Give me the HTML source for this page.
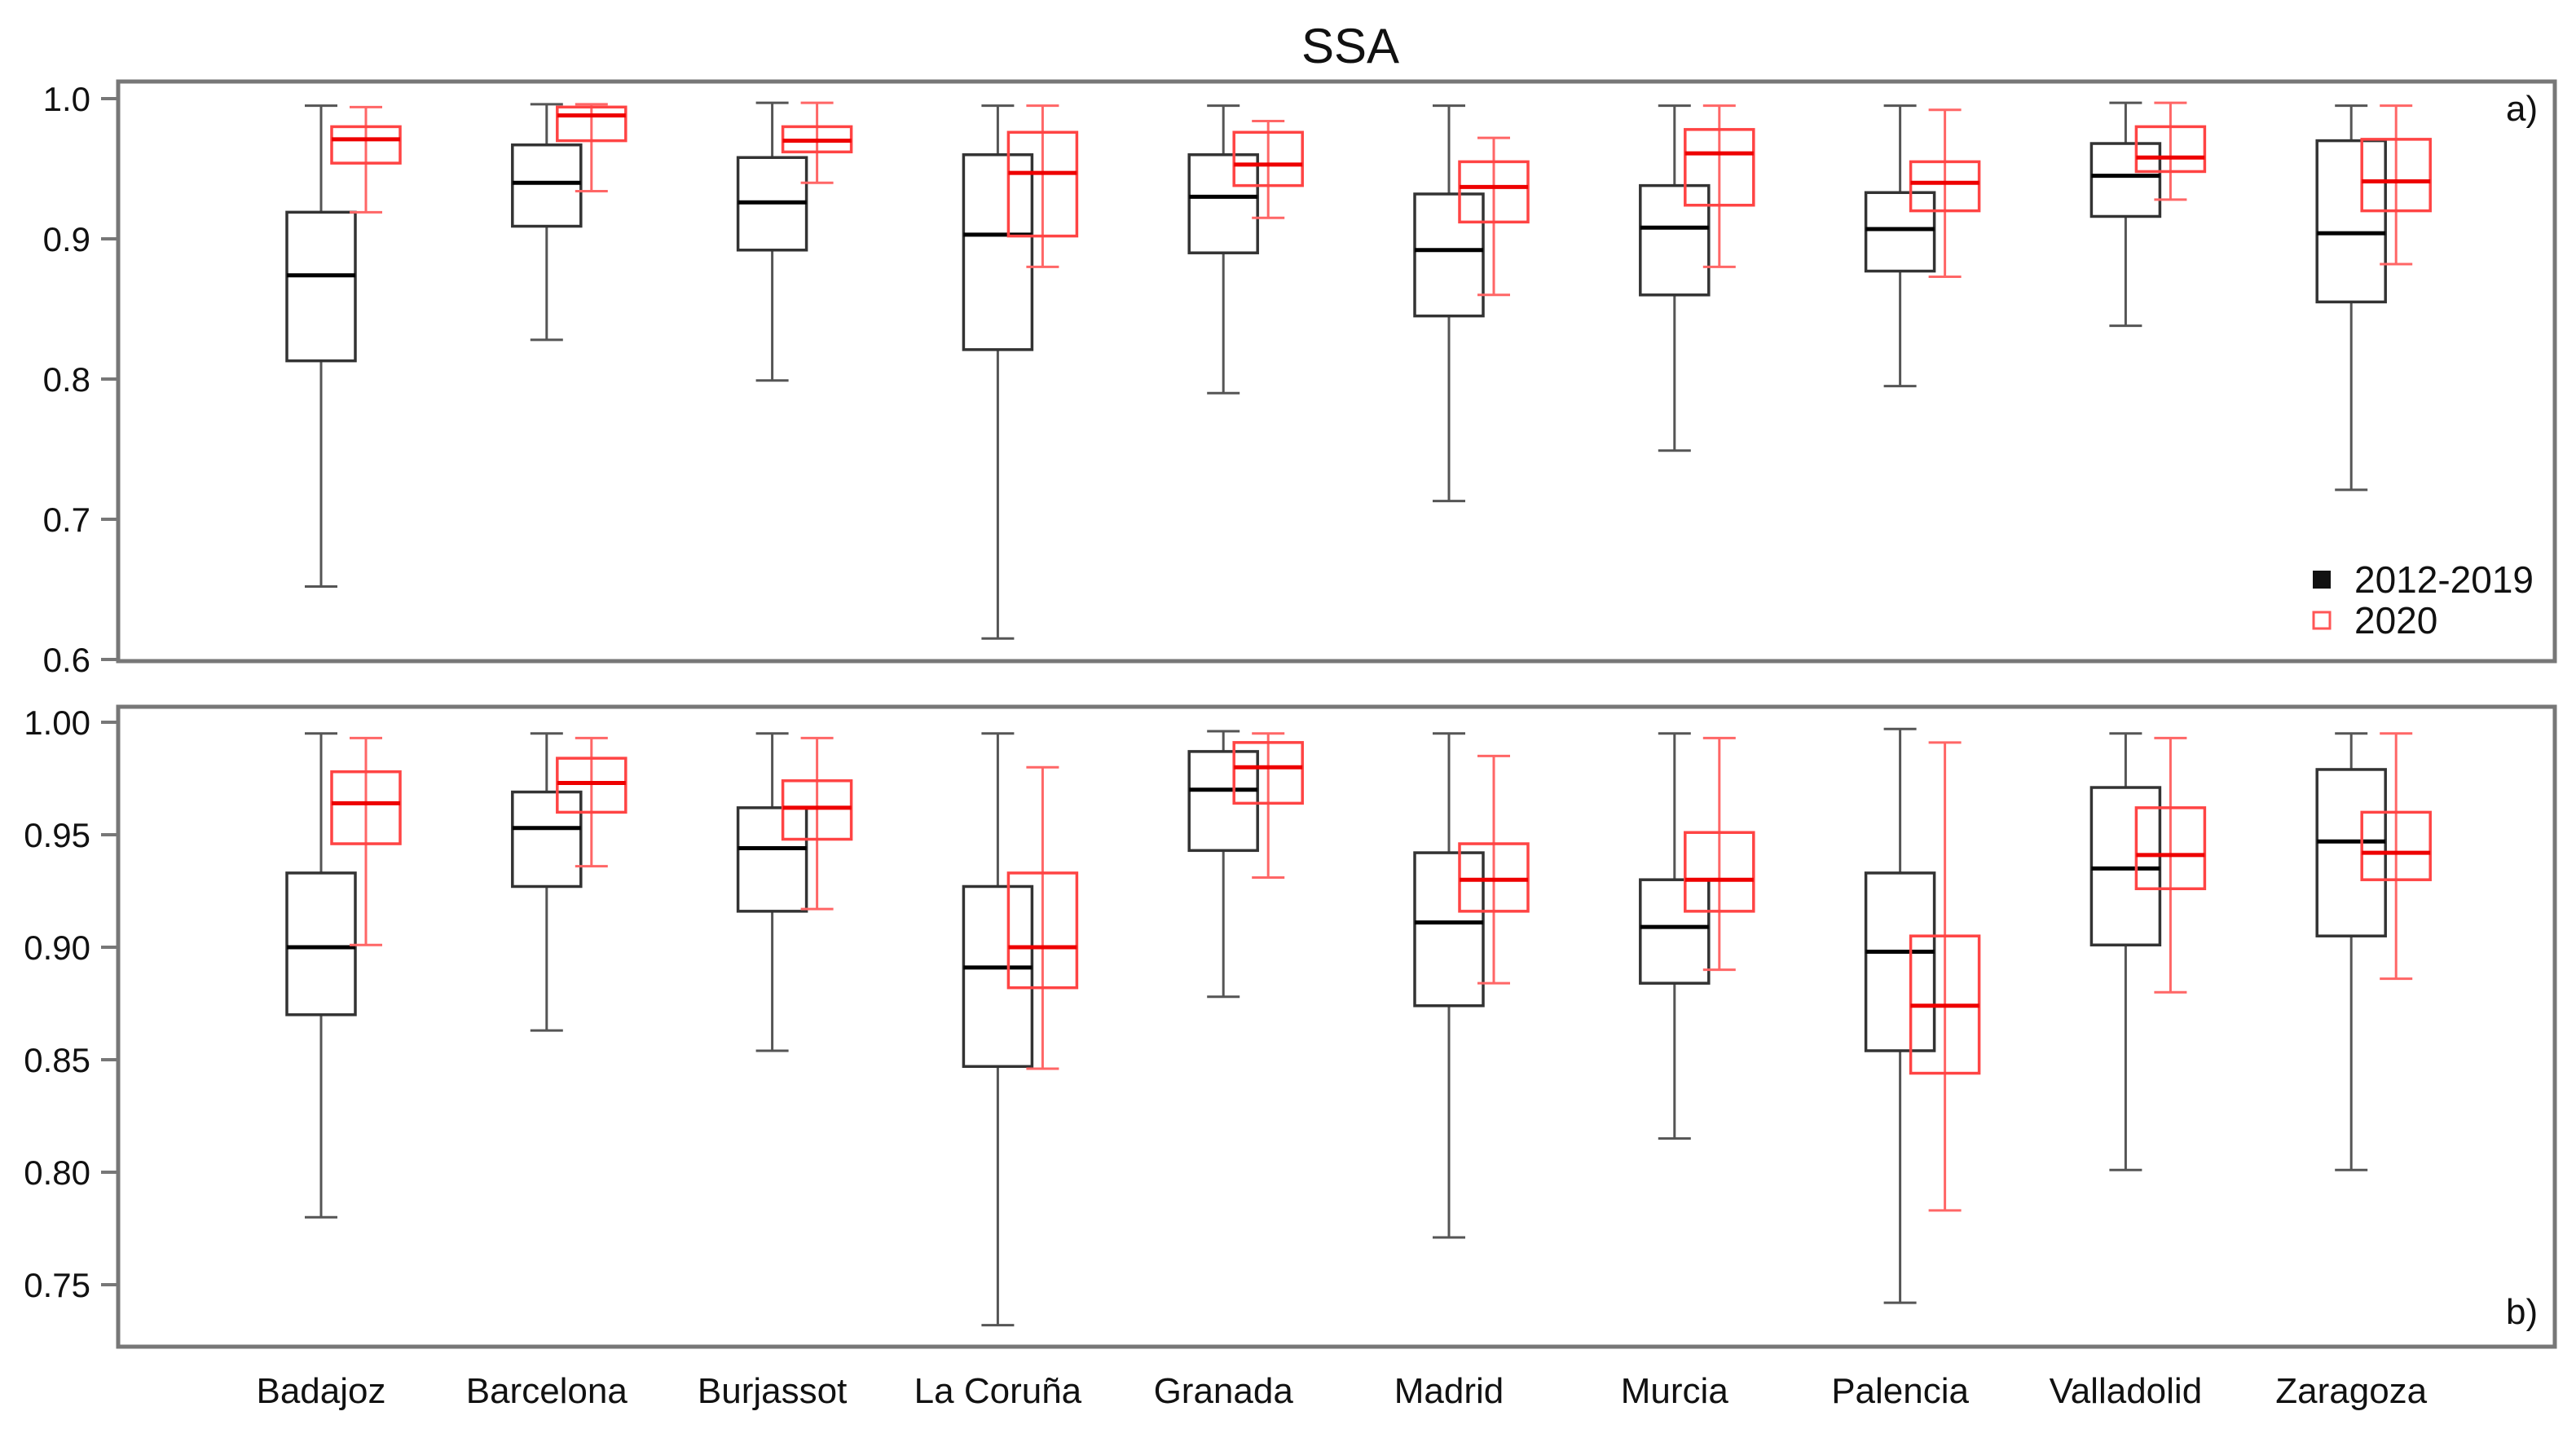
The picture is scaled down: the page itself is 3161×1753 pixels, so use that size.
<!DOCTYPE html>
<html><head><meta charset="utf-8"><style>
html,body{margin:0;padding:0;background:#fff;}
svg{display:block;font-family:"Liberation Sans",sans-serif;}
</style></head><body>
<svg id="chart" width="3161" height="1753" viewBox="0 0 3161 1753" xmlns="http://www.w3.org/2000/svg">
<text x="1657" y="77" font-size="60" text-anchor="middle" fill="#111">SSA</text>
<g id="legend">
<rect x="2838" y="700" width="22" height="22" fill="#111"/>
<text x="2889" y="727" font-size="46" fill="#111">2012-2019</text>
<rect x="2839" y="751" width="20" height="20" fill="none" stroke="#f55" stroke-width="3"/>
<text x="2889" y="777" font-size="46" fill="#111">2020</text>
</g>
</svg>
<script>
const categories = ["Badajoz","Barcelona","Burjassot","La Coruña","Granada","Madrid","Murcia","Palencia","Valladolid","Zaragoza"];
// [low, q1, median, q3, high]
const panelA_base = [
 [0.652,0.813,0.874,0.919,0.995],[0.828,0.909,0.940,0.967,0.996],[0.799,0.892,0.926,0.958,0.997],
 [0.615,0.821,0.903,0.960,0.995],[0.790,0.890,0.930,0.960,0.995],[0.713,0.845,0.892,0.932,0.995],
 [0.749,0.860,0.908,0.938,0.995],[0.795,0.877,0.907,0.933,0.995],[0.838,0.916,0.945,0.968,0.997],
 [0.721,0.855,0.904,0.970,0.995]];
const panelA_2020 = [
 [0.919,0.954,0.971,0.980,0.994],[0.934,0.970,0.988,0.994,0.996],[0.940,0.962,0.970,0.980,0.997],
 [0.880,0.902,0.947,0.976,0.995],[0.915,0.938,0.953,0.976,0.984],[0.860,0.912,0.937,0.955,0.972],
 [0.880,0.924,0.961,0.978,0.995],[0.873,0.920,0.940,0.955,0.992],[0.928,0.948,0.958,0.980,0.997],
 [0.882,0.920,0.941,0.971,0.995]];
const panelB_base = [
 [0.780,0.870,0.900,0.933,0.995],[0.863,0.927,0.953,0.969,0.995],[0.854,0.916,0.944,0.962,0.995],
 [0.732,0.847,0.891,0.927,0.995],[0.878,0.943,0.970,0.987,0.996],[0.771,0.874,0.911,0.942,0.995],
 [0.815,0.884,0.909,0.930,0.995],[0.742,0.854,0.898,0.933,0.997],[0.801,0.901,0.935,0.971,0.995],
 [0.801,0.905,0.947,0.979,0.995]];
const panelB_2020 = [
 [0.901,0.946,0.964,0.978,0.993],[0.936,0.960,0.973,0.984,0.993],[0.917,0.948,0.962,0.974,0.993],
 [0.846,0.882,0.900,0.933,0.980],[0.931,0.964,0.980,0.991,0.995],[0.884,0.916,0.930,0.946,0.985],
 [0.890,0.916,0.930,0.951,0.993],[0.783,0.844,0.874,0.905,0.991],[0.880,0.926,0.941,0.962,0.993],
 [0.886,0.930,0.942,0.960,0.995]];
const ticksA = [1.0,0.9,0.8,0.7,0.6];
const tickLabelsA = ["1.0","0.9","0.8","0.7","0.6"];
const ticksB = [1.00,0.95,0.90,0.85,0.80,0.75];
const tickLabelsB = ["1.00","0.95","0.90","0.85","0.80","0.75"];

const NS="http://www.w3.org/2000/svg";
const svg=document.getElementById('chart');
function mk(tag,attrs,parent){const e=document.createElementNS(NS,tag);for(const k in attrs)e.setAttribute(k,attrs[k]);(parent||svg).appendChild(e);return e;}
const xCenter = i => 394 + i*276.8;

function drawPanel(id, top, bottom, y1v, y1p, y2v, y2p, ticks, labels, base, cur, tag){
  const y = v => y1p + (v - y1v)*(y2p - y1p)/(y2v - y1v);
  const g=mk('g',{});
  
  
  const fr=mk('rect',{x:145,y:top,width:2990,height:bottom-top,fill:'none',stroke:'#777','stroke-width':5},g);
  
  
  ticks.forEach((t,k)=>{
    const tl=mk('line',{x1:124,x2:145,y1:y(t),y2:y(t),stroke:'#777','stroke-width':4},g);
    
    
    const tx=mk('text',{x:111,y:y(t)+15,'font-size':42,'text-anchor':'end',fill:'#111'},g);
    tx.textContent=labels[k];
    
    
  });
  function box(d, cx, isRed, name){
    const bg=mk('g',{},g);
    
    
    const wc=isRed?'#f66':'#555', bc=isRed?'#f44':'#333', mc=isRed?'#e00':'#000';
    mk('line',{x1:cx,x2:cx,y1:y(d[4]),y2:y(d[0]),stroke:wc,'stroke-width':3},bg);
    mk('line',{x1:cx-20,x2:cx+20,y1:y(d[4]),y2:y(d[4]),stroke:wc,'stroke-width':3},bg);
    mk('line',{x1:cx-20,x2:cx+20,y1:y(d[0]),y2:y(d[0]),stroke:wc,'stroke-width':3},bg);
    mk('rect',{x:cx-42,y:y(d[3]),width:84,height:y(d[1])-y(d[3]),fill:'#fff','fill-opacity':isRed?0:1,stroke:bc,'stroke-width':3.5},bg);
    mk('line',{x1:cx-42,x2:cx+42,y1:y(d[2]),y2:y(d[2]),stroke:mc,'stroke-width':5},bg);
  }
  categories.forEach((c,i)=>{
    box(base[i], xCenter(i), false, 'box-2012-2019-'+id+'-'+i);
    box(cur[i], xCenter(i)+55, true, 'box-2020-'+id+'-'+i);
  });
  const lt=mk('text',{x:3075,y:top+ (id==='a'?48:0) + (id==='b'?bottom-top-28:0),'font-size':44,fill:'#111'},g);
  lt.textContent=tag;
  
  
}
drawPanel('a',100,811,1.0,121,0.6,809,ticksA,tickLabelsA,panelA_base,panelA_2020,'a)');
drawPanel('b',867,1652,1.0,886,0.75,1576,ticksB,tickLabelsB,panelB_base,panelB_2020,'b)');
categories.forEach((c,i)=>{
  const t=mk('text',{x:xCenter(i),y:1721,'font-size':44,'text-anchor':'middle',fill:'#111'});
  t.textContent=c;
  
  
});
svg.appendChild(document.getElementById('legend'));
</script>
</body></html>
